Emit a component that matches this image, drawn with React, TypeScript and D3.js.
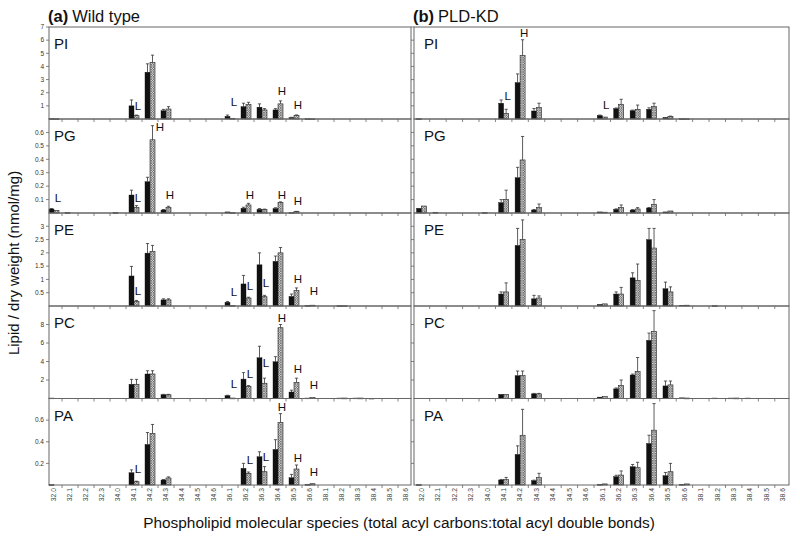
import React from "react";
import * as d3 from "d3";

// ---------- DATA ----------
const categories = ["32.0","32.1","32.2","32.3","34.0","34.1","34.2","34.3","34.4","34.5","34.6","36.1","36.2","36.3","36.4","36.5","36.6","38.1","38.2","38.3","38.4","38.5","38.6"];
const lipidClasses = ["PI", "PG", "PE", "PC", "PA"];
const yMaxByClass = [7, 0.7, 3.5, 10, 0.8];
const yTicksPI = [1, 2, 3, 4, 5, 6, 7];
const yTicksPG = [0.1, 0.2, 0.3, 0.4, 0.5, 0.6];
const yTicksPE = [0.5, 1, 1.5, 2, 2.5, 3];
const yTicksPC = [2, 4, 6, 8];
const yTicksPA = [0.2, 0.4, 0.6];
const panelTitles = ["Wild type", "PLD-KD"];
const panelTags = ["(a)", "(b)"];

// Wild type  (A = black bars, B = hatched bars; sd = error-bar length)
const wtPI_A   = [0.03,0,0,0,0,1.0,3.56,0.63,0,0,0,0.2,0.94,0.9,0.69,0.1,0.02,0,0,0,0,0,0];
const wtPI_Asd = [0,0,0,0,0,0.45,0.64,0.1,0,0,0,0.1,0.26,0.25,0.1,0.03,0,0,0,0,0,0,0];
const wtPI_B   = [0.02,0,0,0,0,0.25,4.3,0.76,0,0,0,0.05,1.12,0.69,1.15,0.27,0.01,0,0,0,0,0,0];
const wtPI_Bsd = [0,0,0,0,0,0.05,0.56,0.18,0,0,0,0,0.15,0.1,0.23,0.04,0,0,0,0,0,0,0];

const wtPG_A   = [0.03,0.003,0,0,0.003,0.134,0.233,0.022,0,0,0,0.008,0.035,0.027,0.033,0.003,0,0,0,0,0,0,0];
const wtPG_Asd = [0.003,0,0,0,0,0.036,0.033,0.004,0,0,0,0,0.008,0.006,0.006,0,0,0,0,0,0,0,0];
const wtPG_B   = [0.02,0,0,0,0,0.042,0.545,0.042,0,0,0,0.003,0.06,0.025,0.077,0.01,0,0,0,0,0,0,0];
const wtPG_Bsd = [0,0,0,0,0,0.013,0.105,0.008,0,0,0,0,0.012,0.004,0.006,0.002,0,0,0,0,0,0,0];

const wtPE_A   = [0,0,0,0,0,1.13,1.99,0.23,0,0,0,0.14,0.83,1.55,1.68,0.36,0.02,0,0.01,0,0,0,0];
const wtPE_Asd = [0,0,0,0,0,0.36,0.36,0.04,0,0,0,0.03,0.32,0.45,0.2,0.09,0,0,0,0,0,0,0];
const wtPE_B   = [0,0,0,0,0,0.17,2.05,0.23,0,0,0,0.02,0.3,0.35,2.0,0.58,0.03,0,0.01,0,0,0,0];
const wtPE_Bsd = [0,0,0,0,0,0.04,0.23,0.04,0,0,0,0,0.03,0.05,0.2,0.1,0,0,0,0,0,0,0];

const wtPC_A   = [0.05,0,0,0,0,1.54,2.65,0.4,0,0,0,0.3,2.1,4.4,3.97,0.7,0.05,0,0.05,0.05,0.03,0,0];
const wtPC_Asd = [0,0,0,0,0,0.53,0.35,0.05,0,0,0,0.05,0.7,1.25,0.55,0.2,0,0,0,0,0,0,0];
const wtPC_B   = [0,0,0,0,0,1.54,2.65,0.4,0,0,0,0.05,1.3,1.65,7.65,1.75,0.1,0,0.05,0.05,0,0,0];
const wtPC_Bsd = [0,0,0,0,0,0.53,0.35,0.05,0,0,0,0,0.1,0.55,0.35,0.45,0,0,0,0,0,0,0];

const wtPA_A   = [0.003,0,0,0,0,0.113,0.375,0.046,0,0,0,0,0.154,0.261,0.329,0.067,0.005,0,0,0,0,0,0];
const wtPA_Asd = [0,0,0,0,0,0.027,0.11,0.005,0,0,0,0,0.046,0.046,0.09,0.031,0,0,0,0,0,0,0];
const wtPA_B   = [0,0,0,0,0,0.03,0.476,0.065,0,0,0,0,0.108,0.123,0.578,0.148,0.012,0,0,0,0,0,0];
const wtPA_Bsd = [0,0,0,0,0,0.005,0.084,0.01,0,0,0,0,0.012,0.047,0.082,0.037,0,0,0,0,0,0,0];

// PLD-KD
const kdPI_A   = [0.02,0,0,0,0,1.2,2.77,0.61,0,0,0,0.27,0.79,0.63,0.74,0.12,0.02,0,0,0,0,0,0];
const kdPI_Asd = [0,0,0,0,0,0.25,0.66,0.19,0,0,0,0.03,0.05,0.05,0.11,0,0,0,0,0,0,0,0];
const kdPI_B   = [0,0,0,0,0,0.43,4.83,0.86,0,0,0,0.15,1.12,0.74,0.94,0.2,0.02,0,0,0,0,0,0];
const kdPI_Bsd = [0,0,0,0,0,0.31,1.2,0.34,0,0,0,0,0.38,0.32,0.26,0.02,0,0,0,0,0,0,0];

const kdPG_A   = [0.035,0.005,0,0,0.003,0.077,0.263,0.022,0,0,0,0.008,0.027,0.022,0.037,0.008,0,0,0,0,0,0,0];
const kdPG_Asd = [0,0,0,0,0,0.023,0.077,0.004,0,0,0,0,0.004,0.003,0.004,0,0,0,0,0,0,0,0];
const kdPG_B   = [0.052,0,0,0,0,0.102,0.395,0.042,0,0,0,0.006,0.042,0.03,0.064,0.015,0,0,0,0,0,0,0];
const kdPG_Bsd = [0,0,0,0,0,0.068,0.175,0.025,0,0,0,0,0.018,0.01,0.036,0,0,0,0,0,0,0,0];

const kdPE_A   = [0,0,0,0,0,0.45,2.28,0.27,0,0,0,0.06,0.45,1.06,2.5,0.65,0.03,0,0.01,0,0,0,0];
const kdPE_Asd = [0,0,0,0,0,0.08,0.64,0.13,0,0,0,0,0.08,0.19,0.42,0.25,0,0,0,0,0,0,0];
const kdPE_B   = [0,0,0,0,0,0.53,2.5,0.3,0,0,0,0.08,0.45,0.96,2.18,0.53,0.03,0,0,0,0,0,0];
const kdPE_Bsd = [0,0,0,0,0,0.34,0.74,0.08,0,0,0,0,0.25,0.62,0.74,0.19,0,0,0,0,0,0,0];

const kdPC_A   = [0,0,0,0,0,0.45,2.47,0.5,0,0,0,0.15,1.04,2.54,6.29,1.36,0.07,0,0.05,0.05,0.05,0,0];
const kdPC_Asd = [0,0,0,0,0,0,0.5,0.05,0,0,0,0,0.1,0.1,0.78,0.53,0,0,0,0,0,0,0];
const kdPC_B   = [0,0,0,0,0,0.45,2.47,0.5,0,0,0,0.2,1.4,2.9,7.25,1.47,0.05,0,0,0.05,0,0,0];
const kdPC_Bsd = [0,0,0,0,0,0,0.5,0.05,0,0,0,0,0.6,1.53,2.25,0.42,0,0,0,0,0,0,0];

const kdPA_A   = [0.003,0,0,0,0,0.046,0.283,0.04,0,0,0,0.005,0.077,0.169,0.384,0.086,0.005,0,0,0,0,0,0];
const kdPA_Asd = [0,0,0,0,0,0.005,0.079,0.005,0,0,0,0,0.013,0.021,0.076,0.03,0,0,0,0,0,0,0];
const kdPA_B   = [0,0,0,0,0,0.05,0.46,0.068,0,0,0,0.01,0.092,0.16,0.507,0.123,0.01,0,0,0,0,0,0];
const kdPA_Bsd = [0,0,0,0,0,0.02,0.24,0.04,0,0,0,0,0.038,0.05,0.246,0.077,0,0,0,0,0,0,0];

// significance letters: column, row, category, letter, value (data units) of the letter baseline
const annotations = [
  { col: 0, row: 0, cat: "34.1", text: "L", v: 0.69 },
  { col: 0, row: 0, cat: "36.1", text: "L", v: 1.0 },
  { col: 0, row: 0, cat: "36.4", text: "H", v: 1.83 },
  { col: 0, row: 0, cat: "36.5", text: "H", v: 0.74 },
  { col: 0, row: 1, cat: "32.0", text: "L", v: 0.084 },
  { col: 0, row: 1, cat: "34.1", text: "L", v: 0.08 },
  { col: 0, row: 1, cat: "34.2", text: "H", v: 0.607, beside: true },
  { col: 0, row: 1, cat: "34.3", text: "H", v: 0.104 },
  { col: 0, row: 1, cat: "36.2", text: "H", v: 0.104 },
  { col: 0, row: 1, cat: "36.4", text: "H", v: 0.104 },
  { col: 0, row: 1, cat: "36.5", text: "H", v: 0.06 },
  { col: 0, row: 2, cat: "34.1", text: "L", v: 0.42 },
  { col: 0, row: 2, cat: "36.1", text: "L", v: 0.36 },
  { col: 0, row: 2, cat: "36.2", text: "L", v: 0.59 },
  { col: 0, row: 2, cat: "36.3", text: "L", v: 0.72 },
  { col: 0, row: 2, cat: "36.5", text: "H", v: 0.87 },
  { col: 0, row: 2, cat: "36.6", text: "H", v: 0.42 },
  { col: 0, row: 3, cat: "36.1", text: "L", v: 1.11 },
  { col: 0, row: 3, cat: "36.2", text: "L", v: 2.19 },
  { col: 0, row: 3, cat: "36.3", text: "L", v: 3.37 },
  { col: 0, row: 3, cat: "36.4", text: "H", v: 8.25 },
  { col: 0, row: 3, cat: "36.5", text: "H", v: 2.79 },
  { col: 0, row: 3, cat: "36.6", text: "H", v: 1.0 },
  { col: 0, row: 4, cat: "34.1", text: "L", v: 0.108 },
  { col: 0, row: 4, cat: "36.2", text: "L", v: 0.19 },
  { col: 0, row: 4, cat: "36.3", text: "L", v: 0.22 },
  { col: 0, row: 4, cat: "36.4", text: "H", v: 0.68 },
  { col: 0, row: 4, cat: "36.5", text: "H", v: 0.21 },
  { col: 0, row: 4, cat: "36.6", text: "H", v: 0.086 },
  { col: 1, row: 0, cat: "34.1", text: "L", v: 1.45 },
  { col: 1, row: 0, cat: "34.2", text: "H", v: 6.24 },
  { col: 1, row: 0, cat: "36.1", text: "L", v: 0.74 },
];

const yTicksByClass = [yTicksPI, yTicksPG, yTicksPE, yTicksPC, yTicksPA];
const seriesData = [
  [
    [wtPI_A, wtPI_Asd, wtPI_B, wtPI_Bsd],
    [wtPG_A, wtPG_Asd, wtPG_B, wtPG_Bsd],
    [wtPE_A, wtPE_Asd, wtPE_B, wtPE_Bsd],
    [wtPC_A, wtPC_Asd, wtPC_B, wtPC_Bsd],
    [wtPA_A, wtPA_Asd, wtPA_B, wtPA_Bsd],
  ],
  [
    [kdPI_A, kdPI_Asd, kdPI_B, kdPI_Bsd],
    [kdPG_A, kdPG_Asd, kdPG_B, kdPG_Bsd],
    [kdPE_A, kdPE_Asd, kdPE_B, kdPE_Bsd],
    [kdPC_A, kdPC_Asd, kdPC_B, kdPC_Bsd],
    [kdPA_A, kdPA_Asd, kdPA_B, kdPA_Bsd],
  ],
];

// ---------- LAYOUT ----------
const W = 800;
const H = 541;
const rowEdges = [27, 119, 213, 306, 398.5, 485];
const colBox = [
  { left: 49, right: 411, padL: 5, padR: 5 },
  { left: 414, right: 789, padL: 7.5, padR: 6 },
];
const BW = 5;
const FONT = "'Liberation Sans', Arial, Helvetica, sans-serif";
const BORDER = "#666";

export default function App() {
  const xScales = colBox.map((c) =>
    d3.scalePoint<string>().domain(categories).range([c.left + c.padL, c.right - c.padR])
  );
  const yScales = lipidClasses.map((_, r) =>
    d3.scaleLinear().domain([0, yMaxByClass[r]]).range([rowEdges[r + 1], rowEdges[r]])
  );

  const panels: React.ReactNode[] = [];
  colBox.forEach((c, ci) => {
    const x = xScales[ci];
    const step = x.step();
    lipidClasses.forEach((cls, ri) => {
      const y = yScales[ri];
      const [A, Asd, B, Bsd] = seriesData[ci][ri];
      const top = rowEdges[ri];
      const bottom = rowEdges[ri + 1];
      const els: React.ReactNode[] = [];
      yTicksByClass[ri].forEach((t, k) => {
        els.push(
          <line key={`yt${k}`} x1={c.left - 3} x2={c.left} y1={y(t)} y2={y(t)} stroke={BORDER} strokeWidth={0.8} />
        );
        if (ci === 0) {
          els.push(
            <text key={`yl${k}`} x={c.left - 5} y={y(t)} dy="0.35em" textAnchor="end" fontSize={6.5} fill="#333">
              {String(t)}
            </text>
          );
        }
      });
      categories.forEach((cat, k) => {
        if (k === 0) return;
        const xm = (x(cat) as number) - step / 2;
        els.push(
          <line key={`xt${k}`} x1={xm} x2={xm} y1={bottom} y2={bottom + 3} stroke={BORDER} strokeWidth={0.8} />
        );
      });
      categories.forEach((cat, k) => {
        const cx = x(cat) as number;
        const a = A[k];
        const b = B[k];
        if (a > 0) {
          els.push(
            <rect key={`a${k}`} x={cx - BW} y={y(a)} width={BW} height={Math.max(0.8, y(0) - y(a))} fill="#111" stroke="#111" strokeWidth={0.4} />
          );
          if (Asd[k] > 0) {
            const ex = cx - BW / 2;
            els.push(
              <g key={`ae${k}`} stroke="#333" strokeWidth={0.8}>
                <line x1={ex} x2={ex} y1={y(a)} y2={y(a + Asd[k])} />
                <line x1={ex - 1.6} x2={ex + 1.6} y1={y(a + Asd[k])} y2={y(a + Asd[k])} />
              </g>
            );
          }
        }
        if (b > 0) {
          els.push(
            <rect key={`b${k}`} x={cx} y={y(b)} width={BW} height={Math.max(0.8, y(0) - y(b))} fill="url(#hatch)" stroke="#222" strokeWidth={0.6} />
          );
          if (Bsd[k] > 0) {
            const ex = cx + BW / 2;
            els.push(
              <g key={`be${k}`} stroke="#333" strokeWidth={0.8}>
                <line x1={ex} x2={ex} y1={y(b)} y2={y(b + Bsd[k])} />
                <line x1={ex - 1.6} x2={ex + 1.6} y1={y(b + Bsd[k])} y2={y(b + Bsd[k])} />
              </g>
            );
          }
        }
      });
      annotations
        .filter((an) => an.col === ci && an.row === ri)
        .forEach((an, k) => {
          const cx = x(an.cat) as number;
          els.push(
            <text key={`an${k}`} x={cx + (an.beside ? 10 : 4)} y={y(an.v)} textAnchor="middle" fontSize={11.5} fill="#111">
              {an.text}
            </text>
          );
        });
      els.push(
        <rect key="border" x={c.left} y={top} width={c.right - c.left} height={bottom - top} fill="none" stroke={BORDER} strokeWidth={1} />
      );
      els.push(
        <text key="cls" x={c.left + (ci === 0 ? 5 : 10)} y={top + 22} fontSize={15} fill="#111">
          {cls}
        </text>
      );
      panels.push(<g key={`p${ci}-${ri}`}>{els}</g>);
    });
    categories.forEach((cat, k) => {
      const cx = x(cat) as number;
      panels.push(
        <text key={`xl${ci}-${k}`} transform={`translate(${cx + 2.3},${rowEdges[5] + 3}) rotate(-90)`} textAnchor="end" fontSize={6.8} fill="#444">
          {cat}
        </text>
      );
    });
    panels.push(
      <text key={`title${ci}`} x={c.left - 1} y={22} fontSize={16.5} fill="#111">
        <tspan fontWeight="bold">{panelTags[ci]}</tspan>
        <tspan dx={4}>{panelTitles[ci]}</tspan>
      </text>
    );
  });

  return (
    <div style={{ position: "absolute", left: 0, top: 0 }}>
      <svg width={W} height={H} viewBox={`0 0 ${W} ${H}`} style={{ display: "block", background: "#fff", fontFamily: FONT }}>
        <defs>
          <pattern id="hatch" width={2.4} height={2.4} patternUnits="userSpaceOnUse">
            <rect width={2.4} height={2.4} fill="#d9d9d9" />
            <path d="M0,0 L2.4,2.4 M2.4,0 L0,2.4" stroke="#555" strokeWidth={0.6} />
          </pattern>
        </defs>
        <rect x={0} y={0} width={W} height={H} fill="#fff" />
        {panels}
        <text transform={`translate(19,263) rotate(-90)`} textAnchor="middle" fontSize={15} fill="#111">
          Lipid / dry weight (nmol/mg)
        </text>
        <text x={399} y={528} textAnchor="middle" fontSize={15.4} fill="#111">
          Phospholipid molecular species (total acyl carbons:total acyl double bonds)
        </text>
      </svg>
    </div>
  );
}
